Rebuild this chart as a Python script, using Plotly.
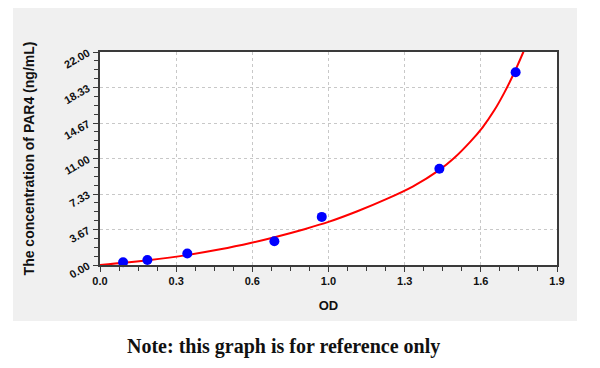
import plotly.graph_objects as go

# Standard points (OD, concentration ng/mL)
od_points = [0.096, 0.197, 0.363, 0.725, 0.922, 1.411, 1.728]
conc_points = [0.28, 0.52, 1.18, 2.45, 4.97, 9.95, 19.90]

# Fitted curve
od_curve = [0.00, 0.10, 0.20, 0.36, 0.50, 0.63, 0.73, 0.85, 0.95, 1.07, 1.19, 1.30,
            1.41, 1.47, 1.54, 1.59, 1.64, 1.68, 1.72, 1.76, 1.77]
conc_curve = [0.00, 0.22, 0.49, 1.02, 1.62, 2.30, 2.90, 3.70, 4.45, 5.55, 6.80, 8.10,
              9.80, 11.00, 12.75, 14.20, 16.00, 17.75, 19.75, 22.00, 22.60]

x_ticktext = ["0.0", "0.3", "0.6", "1.0", "1.3", "1.6", "1.9"]
y_ticktext = ["0.00", "3.67", "7.33", "11.00", "14.67", "18.33", "22.00"]

x_max = 1.9
y_max = 22.0
n = len(x_ticktext) - 1
x_tickvals = [x_max * i / n for i in range(n + 1)]
y_tickvals = [y_max * i / n for i in range(n + 1)]

fig = go.Figure()
fig.add_trace(go.Scatter(
    x=od_curve, y=conc_curve, mode="lines",
    line=dict(color="#ff0000", width=2, shape="spline", smoothing=0.8),
    cliponaxis=False, hoverinfo="skip", showlegend=False))
fig.add_trace(go.Scatter(
    x=od_points, y=conc_points, mode="markers",
    marker=dict(color="#0000ff", size=10, line=dict(width=0)),
    cliponaxis=False, showlegend=False))

font_sans = "Liberation Sans, Arial, sans-serif"

common_axis = dict(
    showline=True, linecolor="#3a3a3a", linewidth=1.5, mirror=True,
    showgrid=True, gridcolor="#c8c8c8", griddash="dot", gridwidth=1,
    zeroline=False, ticks="outside", ticklen=5, tickcolor="#3a3a3a", tickwidth=1,
    tickfont=dict(family=font_sans, size=11, color="#111111", weight="bold"),
)

fig.update_xaxes(
    range=[0, x_max], tickmode="array", tickvals=x_tickvals, ticktext=x_ticktext,
    minor=dict(tick0=0, dtick=x_max / n / 4, ticks="outside", ticklen=4,
               tickcolor="#3a3a3a", showgrid=False),
    title=dict(text="OD", font=dict(family=font_sans, size=13, color="#111111", weight="bold"),
               standoff=15),
    **common_axis)
fig.update_yaxes(
    range=[0, y_max], tickmode="array", tickvals=y_tickvals, ticktext=y_ticktext,
    tickangle=-30, ticklabelstandoff=3,
    minor=dict(tick0=0, dtick=y_max / n / 4, ticks="outside", ticklen=4,
               tickcolor="#3a3a3a", showgrid=False),
    title=dict(text="The concentration of PAR4 (ng/mL)",
               font=dict(family=font_sans, size=14, color="#111111", weight="bold"),
               standoff=24),
    **common_axis)

# The page body has an 8px margin, so the figure starts at (8, 8) in the window.
OFF = 8
W, H = 600 - OFF, 368 - OFF
L, R, T, B = 100 - OFF, 43, 52 - OFF, 103
pw, ph = W - L - R, H - T - B

def px_to_paper_x(px):
    return (px - OFF - L) / pw

def px_to_paper_y(py):
    return (H - B - (py - OFF)) / ph

fig.update_layout(
    width=W, height=H,
    margin=dict(l=L, r=R, t=T, b=B, autoexpand=False),
    paper_bgcolor="white", plot_bgcolor="white",
    shapes=[
        dict(type="rect", xref="paper", yref="paper",
             x0=px_to_paper_x(13), x1=px_to_paper_x(577),
             y0=px_to_paper_y(321), y1=px_to_paper_y(0),
             fillcolor="#f0f0f0", line=dict(width=0), layer="below"),
        dict(type="rect", xref="x domain", yref="y domain", x0=0, x1=1, y0=0, y1=1,
             fillcolor="white", line=dict(width=0), layer="below"),
    ],
    annotations=[
        dict(text="<b>Note: this graph is for reference only</b>",
             xref="paper", yref="paper",
             x=px_to_paper_x(283), y=px_to_paper_y(346),
             xanchor="center", yanchor="middle", showarrow=False,
             font=dict(family="Liberation Serif, DejaVu Serif, serif", size=20, color="#111111")),
    ],
)

fig.write_html("out.html")
